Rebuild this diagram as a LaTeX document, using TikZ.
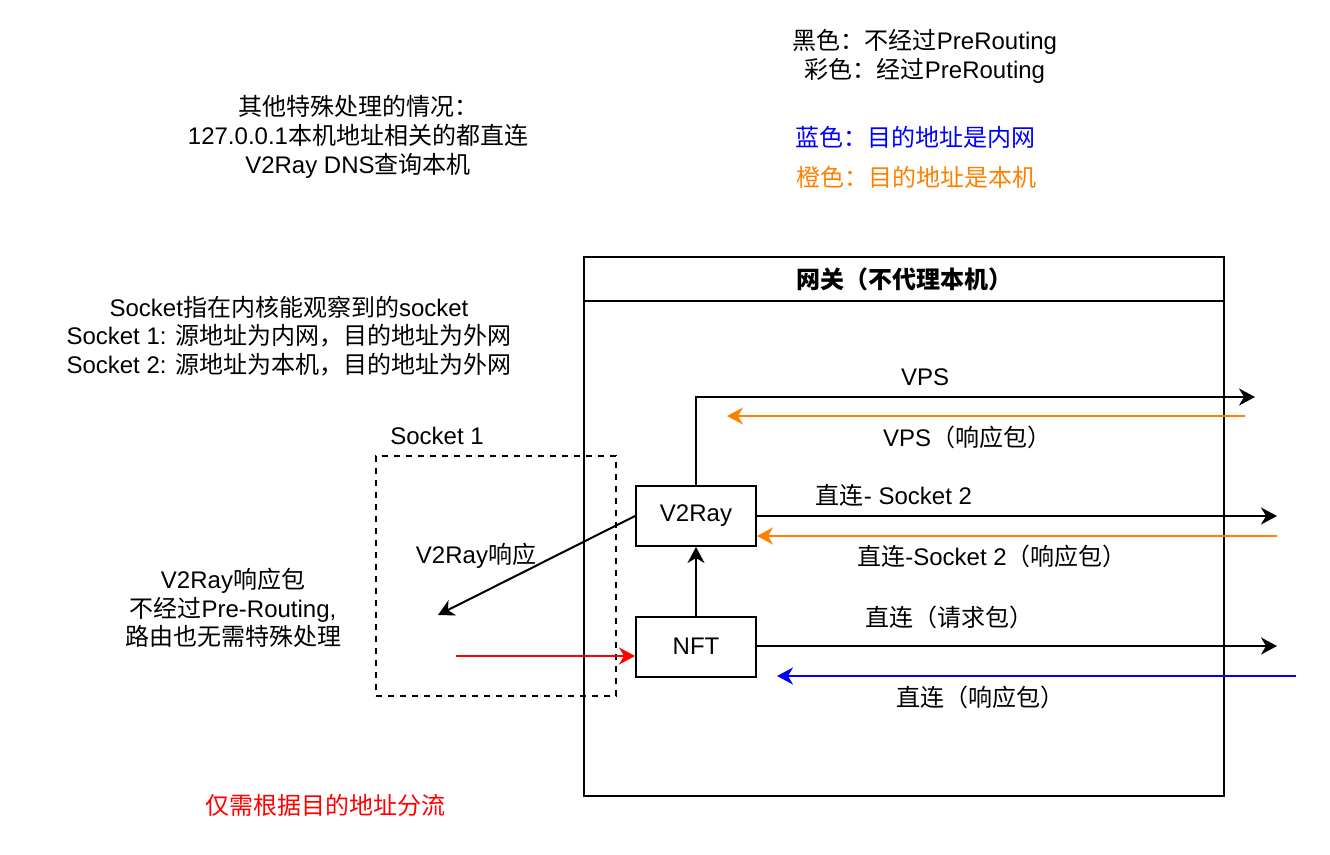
\documentclass[tikz,border=0pt]{standalone}
\usepackage{fontspec}
\setmainfont{Liberation Sans}
\newfontfamily\cjk{Noto Sans CJK SC}
\newcommand\zh[1]{{\cjk #1}}
\usetikzlibrary{arrows.meta}
\definecolor{dorange}{HTML}{FF8000}
\definecolor{dblue}{HTML}{0000FF}
\definecolor{dred}{HTML}{FF0000}
\newcommand\fsz{\fontsize{24}{28.8}\selectfont}
\begin{document}
\begin{tikzpicture}[x=1pt,y=-1pt,
  every node/.style={font=\fsz, inner sep=0pt},
  box/.style={draw, line width=2pt, minimum width=120pt, minimum height=60pt},
  arr/.style={line width=2pt, -{Stealth[length=16pt,width=17pt,inset=5pt]}},
  txt/.style={align=center}]
\useasboundingbox (0,0) rectangle (1330,854);
% gateway container
\node[draw, line width=2pt, minimum width=640pt, minimum height=495pt] (gw) at (904,548.5) {};
\node[draw, line width=2pt, minimum width=640pt, minimum height=44pt] (gwtitle) at (904,279) {\zh{\bfseries 网关（不代理本机）}};
% dashed socket box
\node[draw, dashed, dash pattern=on 6pt off 6pt, line width=2pt, minimum width=240pt, minimum height=240pt] (sock) at (496,576) {};
\node (socklbl) at (437,436) {Socket 1};
% inner boxes
\node[box] (v2ray) at (696,516) {V2Ray};
\node[box] (nft) at (696,646.5) {NFT};
% coordinates
\coordinate (vpsend) at (1255,397);
\coordinate (vpsrs) at (1245,416);
\coordinate (vpsre) at (727,416);
\coordinate (s2end) at (1277,516);
\coordinate (s2rs) at (1277,536);
\coordinate (dend) at (1277,646);
\coordinate (drs) at (1296,676);
\coordinate (dre) at (777,676);
\coordinate (v2rend) at (438,615);
\coordinate (reds) at (456,656);
% connectors
\draw[arr] (v2ray.north) |- (vpsend);
\draw[arr, dorange] (vpsrs) -- (vpsre);
\draw[arr] (v2ray.east) -- (s2end);
\draw[arr, dorange] (s2rs) -- (v2ray.east |- s2rs);
\draw[arr] (nft.north) -- (v2ray.south);
\draw[arr] (nft.east |- dend) -- (dend);
\draw[arr, dblue] (drs) -- (dre);
\draw[arr] (v2ray.west) -- (v2rend);
\draw[arr, dred] (reds) -- (nft.west |- reds);
% connector labels
\node (lvps) at (925,377) {VPS};
\node (lvpsr) at (967,437) {VPS\zh{（响应包）}};
\node (ls2) at (894,495) {\zh{直连}- Socket 2};
\node (ls2r) at (992,556) {\zh{直连}-Socket 2\zh{（响应包）}};
\node (ldq) at (949,617) {\zh{直连（请求包）}};
\node (ldr) at (980,697) {\zh{直连（响应包）}};
\node (lv2r) at (476,556) {V2Ray\zh{响应}};
% free texts
\node[txt] (t1) at (358,137) {\zh{其他特殊处理的情况：}\\127.0.0.1\zh{本机地址相关的都直连}\\V2Ray DNS\zh{查询本机}};
\node[txt] (t2) at (289,336) {Socket\zh{指在内核能观察到的}socket\\Socket 1: \zh{源地址为内网，目的地址为外网}\\Socket 2: \zh{源地址为本机，目的地址为外网}};
\node[txt] (t3) at (233,608) {V2Ray\zh{响应包}\\\zh{不经过}Pre-Routing,\\\zh{路由也无需特殊处理}};
\node[txt] (t4) at (925,56.5) {\zh{黑色：不经过}PreRouting\\\zh{彩色：经过}PreRouting};
\node[text=dblue] (t5) at (915,137) {\zh{蓝色：目的地址是内网}};
\node[text=dorange] (t6) at (916,177) {\zh{橙色：目的地址是本机}};
\node[text=dred] (t7) at (325,805) {\zh{仅需根据目的地址分流}};
\end{tikzpicture}
\end{document}
